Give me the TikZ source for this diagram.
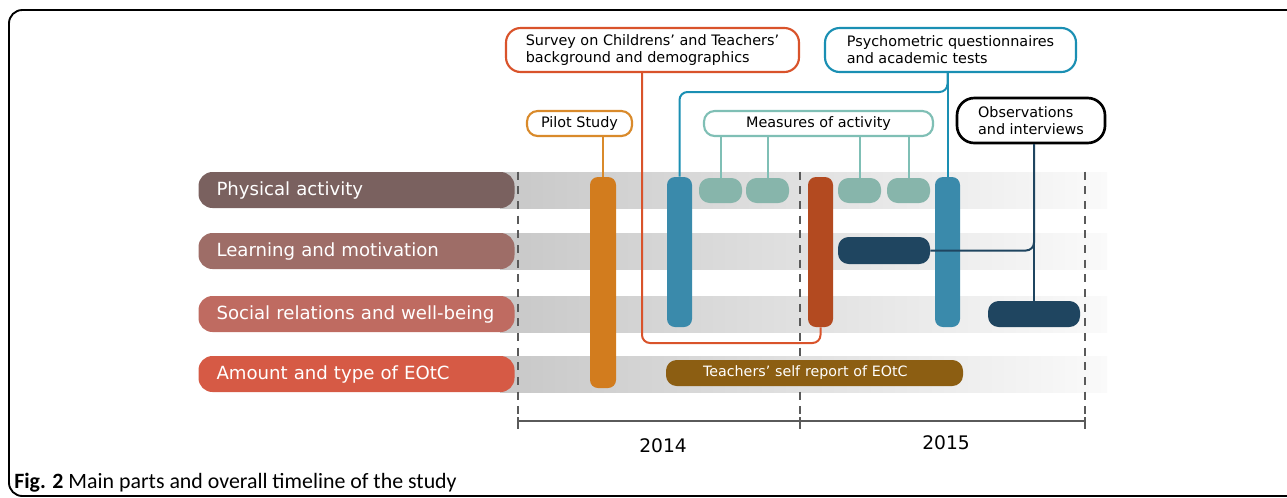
\documentclass[tikz,border=0pt]{standalone}
\usepackage{fontspec}
\setmainfont{DejaVu Sans}
\newfontfamily\capfont{Carlito}
\usetikzlibrary{fit}
\definecolor{cPA}{RGB}{122,97,95}
\definecolor{cLM}{RGB}{158,109,103}
\definecolor{cSR}{RGB}{191,107,97}
\definecolor{cAT}{RGB}{214,90,69}
\definecolor{cPilot}{RGB}{210,124,30}
\definecolor{cPilotLine}{RGB}{217,138,43}
\definecolor{cSurvey}{RGB}{217,83,43}
\definecolor{cRed}{RGB}{179,74,32}
\definecolor{cPsy}{RGB}{26,143,179}
\definecolor{cBlue}{RGB}{58,138,171}
\definecolor{cTealLine}{RGB}{127,191,181}
\definecolor{cTeal}{RGB}{135,181,171}
\definecolor{cDark}{RGB}{31,69,96}
\definecolor{cBrown}{RGB}{140,94,18}
\definecolor{cAxis}{RGB}{90,90,90}
\definecolor{cBandL}{RGB}{200,200,200}
\definecolor{cBandR}{RGB}{250,250,250}
\tikzset{
  pill/.style={inner ysep=0pt, inner xsep=13.5pt, text width=210pt, minimum height=27pt, rounded corners=10.5pt, text=white, font=\fontsize{13.6}{15}\selectfont, align=left},
  bar/.style={inner sep=0pt, rounded corners=6pt},
  callout/.style={inner sep=0pt, rounded corners=11pt, fill=white, line width=1.6pt, font=\fontsize{10.8}{12.8}\selectfont, align=left},
  link/.style={line width=1.5pt, rounded corners=6pt},
  dashline/.style={cAxis, line width=1.1pt, dash pattern=on 6pt off 5pt},
  axisline/.style={cAxis, line width=1.6pt},
  yearlabel/.style={font=\fontsize{14}{16}\selectfont},
}
\begin{document}
\begin{tikzpicture}[x=0.75pt,y=-0.75pt]
\useasboundingbox (0,0) rectangle (1287,497);
% frame
\begin{scope}
\clip (0,0) rectangle (1287,497);
\draw[line width=1.4pt, rounded corners=10pt] (9,10) rectangle (1300,496);
\end{scope}
% gray bands
\shade[left color=cBandL, right color=cBandR] (500,172) rectangle (1107,208);
\shade[left color=cBandL, right color=cBandR] (500,233) rectangle (1107,269);
\shade[left color=cBandL, right color=cBandR] (500,296) rectangle (1107,332);
\shade[left color=cBandL, right color=cBandR] (500,356) rectangle (1107,392);
% row labels
\node[pill, fill=cPA] (pa) at (356.5,190) {Physical activity};
\node[pill, fill=cLM] (lm) at (356.5,251) {Learning and motivation};
\node[pill, fill=cSR] (sr) at (356.5,314) {Social relations and well-being};
\node[pill, fill=cAT] (at) at (356.5,374) {Amount and type of EOtC};
% dashed time lines and axis
\coordinate (t0) at (518,421);
\coordinate (t1) at (800,421);
\coordinate (t2) at (1085,421);
\foreach \c in {t0,t1,t2}{
  \draw[dashline] (\c |- pa.north) -- ([yshift=-9pt]\c);
  \draw[axisline] ([yshift=-4.5pt]\c) -- ([yshift=3pt]\c);
}
\draw[axisline] (t0) -- (t2);
\node[yearlabel] (y14) at (663,446) {2014};
\node[yearlabel] (y15) at (946,443) {2015};
% bars
\node[bar, fill=cPilot, fit={(590,177)(616,388)}] (pilotbar) {};
\node[bar, fill=cBlue, fit={(667,177)(692,327)}] (blueL) {};
\node[bar, fill=cBlue, fit={(935,177)(960,327)}] (blueR) {};
\node[bar, fill=cRed, fit={(808,177)(833,327)}] (redbar) {};
\node[bar, rounded corners=8pt, fill=cTeal, fit={(699,178)(742,203)}] (tm1) {};
\node[bar, rounded corners=8pt, fill=cTeal, fit={(746,178)(789,203)}] (tm2) {};
\node[bar, rounded corners=8pt, fill=cTeal, fit={(838,178)(881,203)}] (tm3) {};
\node[bar, rounded corners=8pt, fill=cTeal, fit={(887,178)(930,203)}] (tm4) {};
\node[bar, rounded corners=8pt, fill=cDark, fit={(838,237)(930,264)}] (dk1) {};
\node[bar, rounded corners=8pt, fill=cDark, fit={(988,301)(1080,327)}] (dk2) {};
\node[bar, rounded corners=8pt, fill=cBrown, minimum height=19.5pt, inner xsep=27.75pt, text width=167.25pt, align=left, text=white, font=\fontsize{10.7}{13}\selectfont] (self) at (814.5,373) {Teachers’ self report of EOtC};
% callouts
\node[callout, draw=cSurvey, minimum width=219.75pt, minimum height=33pt] (survey) at (652.5,50) {Survey on Childrens’ and Teachers’\\background and demographics};
\node[callout, draw=cPsy, minimum width=188.25pt, minimum height=33pt] (psy) at (950.5,50) {Psychometric questionnaires\\and academic tests};
\node[callout, draw=cPilotLine, rounded corners=8pt, minimum width=78.75pt, minimum height=18.75pt] (pilot) at (579.5,123.5) {Pilot Study};
\node[callout, draw=cTealLine, rounded corners=8pt, minimum width=171.75pt, minimum height=18.75pt] (meas) at (818.5,123.5) {Measures of activity};
\node[callout, draw=black, line width=2pt, rounded corners=13pt, minimum width=111pt, minimum height=33.75pt] (obs) at (1031,120.5) {Observations\\and interviews};
% connectors
\coordinate (sx) at (642,0);
\coordinate (sy) at (0,343);
\coordinate (py) at (0,92);
\draw[link, cPilotLine] (pilot.south -| pilotbar.north) -- (pilotbar.north);
\draw[link, cSurvey] (survey.south -| sx) -- (sx |- sy) -- (redbar.south |- sy) -- (redbar.south);
\draw[link, cPsy] (psy.south -| blueR.north) -- (blueR.north);
\draw[link, cPsy] (blueL.north) -- (blueL.north |- py) -- (blueR.north |- py) -- (blueR.north |- psy.south);
\foreach \t in {tm1,tm2,tm3,tm4}{
  \draw[link, cTealLine] (meas.south -| \t.north) -- (\t.north);
}
\draw[link, cDark] (obs.south -| dk2.north) -- (dk2.north);
\draw[link, cDark] (dk1.east) -- (dk2.north |- dk1.east) -- (dk2.north |- obs.south);
% caption
\node[anchor=base west, inner sep=0pt, font=\capfont\fontsize{16.4}{19}\selectfont] (cap) at (14,488) {\textbf{Fig. 2} Main parts and overall timeline of the study};
\end{tikzpicture}
\end{document}
